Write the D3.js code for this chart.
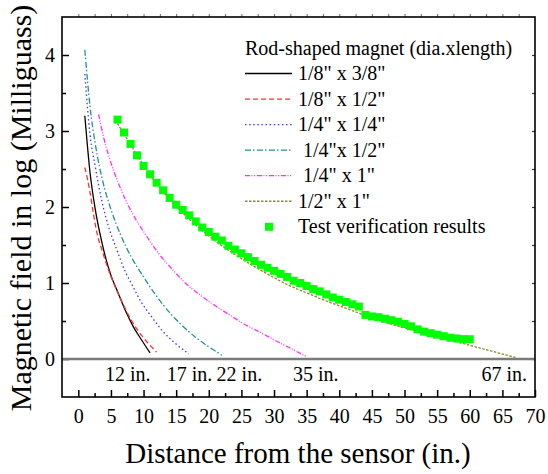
<!DOCTYPE html>
<html>
<head>
<meta charset="utf-8">
<script src="https://cdn.jsdelivr.net/npm/d3@7"></script>
<style>
  html, body { margin: 0; padding: 0; background: #fff; }
  svg { display: block; font-family: "Liberation Serif", "Times New Roman", serif; }
  text { white-space: pre; }
</style>
</head>
<body>
<svg id="chart" width="548" height="474"></svg>
<script>
// Field strength (log10 of milligauss) versus distance (in.) for rod magnets
const seriesNames = [
  "1/8\" x 3/8\"",
  "1/8\" x 1/2\"",
  "1/4\" x 1/4\"",
  " 1/4\"x 1/2\"",
  " 1/4\" x 1\"",
  "1/2\" x 1\""
];

const rod18x38 = [[1.0,3.2],[1.8,2.45],[2.6,1.97],[3.6,1.54],[4.1,1.36],[5,1.1],[6.1,0.87],[7.2,0.64],[8.4,0.43],[9.7,0.25],[11,0.08]];
const rod18x12 = [[1.0,2.52],[1.4,2.37],[1.8,2.19],[2.3,1.92],[2.9,1.64],[3.6,1.44],[4.35,1.24],[5.5,0.98],[6.65,0.76],[8,0.53],[9.7,0.31],[11,0.18],[12,0.09]];
const rod14x14 = [[1.0,3.75],[1.8,2.95],[2.6,2.53],[3.5,2.12],[4.6,1.75],[5.8,1.46],[7.15,1.16],[8.4,0.95],[9.7,0.74],[11.2,0.56],[12.8,0.38],[14.8,0.21],[16.9,0.07]];
const rod14x12 = [[1.0,4.07],[1.8,3.32],[2.6,2.83],[3.8,2.32],[5,1.97],[6.5,1.63],[8,1.36],[9.7,1.12],[11.8,0.85],[13.8,0.63],[15.8,0.45],[17.9,0.29],[20,0.16],[22,0.05]];
const rod14x1  = [[3.1,3.22],[3.9,2.91],[4.86,2.62],[6.3,2.28],[8.2,1.93],[10.2,1.65],[12.3,1.39],[14.3,1.19],[16.4,1.0],[18.7,0.84],[21,0.7],[23,0.59],[25,0.48],[27.9,0.35],[30.5,0.23],[33,0.12],[35,0.03]];
const rod12x1  = [[6,3.1],[8,2.82],[10,2.55],[12.5,2.25],[15,2.01],[17.5,1.8],[20,1.62],[22.5,1.46],[25,1.32],[27.5,1.19],[30,1.07],[32.5,0.96],[35,0.87],[37.5,0.78],[40,0.7],[42.5,0.62],[45,0.54],[47.5,0.47],[50,0.41],[52.5,0.35],[55,0.3],[57.5,0.24],[60,0.18],[63.5,0.1],[67,0.02]];

// Measured verification points, one per inch from 6 to 60
const testDistance = d3.range(6, 61);
const testField = [3.15,2.98,2.83,2.68,2.54,2.43,2.32,2.22,2.12,2.03,
                   1.96,1.89,1.81,1.73,1.67,1.61,1.56,1.49,1.44,1.39,
                   1.34,1.29,1.24,1.20,1.16,1.12,1.08,1.03,1.00,0.96,
                   0.92,0.89,0.85,0.81,0.78,0.75,0.72,0.69,0.58,0.56,
                   0.55,0.53,0.51,0.49,0.46,0.43,0.39,0.36,0.34,0.32,
                   0.30,0.28,0.27,0.26,0.26];

const xTicks = d3.range(0, 71, 5);
const yTicks = [0, 1, 2, 3, 4];
const endNotes = ["12 in.", "17 in.", "22 in.", "35 in.", "67 in."];

const curves = [rod18x38, rod18x12, rod14x14, rod14x12, rod14x1, rod12x1];

// styling
const colors = ["#000000", "#ff3030", "#3a3aff", "#259090", "#ff30ff", "#8c8c22"];
const dashes = ["none", "5,3", "1.5,2.6", "6,2,1.5,2.5", "5,1.5,1,1.5,1,2", "2.5,1.5"];
const endNoteStartX = [4.1, 13.55, 21.2, 32.9, 61.8];

const svg = d3.select("#chart");
const plotL = 62, plotR = 535, plotT = 17, plotB = 397;

const x = d3.scaleLinear().domain([-2.5, 70]).range([plotL, plotR]);
const y = d3.scaleLinear().domain([-0.5, 4.5]).range([plotB, plotT]);
const intFmt = d3.format("d");

// axes
const minorX = d3.range(2.5, 70, 5);
const halfY = d3.range(0.5, 4.5, 1);

svg.append("g").attr("transform", `translate(0,${plotB})`)
  .call(d3.axisBottom(x).tickValues(xTicks).tickFormat(intFmt).tickSizeInner(-7).tickSizeOuter(0).tickPadding(12))
  .call(g => g.select(".domain").remove())
  .call(g => g.selectAll("text").attr("font-size", 20).attr("font-family", "Liberation Serif").attr("fill", "#000"))
  .call(g => g.selectAll("line").attr("stroke", "#000").attr("stroke-width", 1.5));

svg.append("g").attr("transform", `translate(0,${plotB})`)
  .call(d3.axisBottom(x).tickValues(minorX).tickSizeInner(-4).tickSizeOuter(0).tickFormat(""))
  .call(g => g.select(".domain").remove())
  .call(g => g.selectAll("line").attr("stroke", "#000").attr("stroke-width", 1.5));

svg.append("g").attr("transform", `translate(${plotL},0)`)
  .call(d3.axisLeft(y).tickValues(yTicks).tickFormat(intFmt).tickSizeInner(-7).tickSizeOuter(0).tickPadding(7))
  .call(g => g.select(".domain").remove())
  .call(g => g.selectAll("text").attr("font-size", 20).attr("font-family", "Liberation Serif").attr("fill", "#000"))
  .call(g => g.selectAll("line").attr("stroke", "#000").attr("stroke-width", 1.5));

svg.append("g").attr("transform", `translate(${plotL},0)`)
  .call(d3.axisLeft(y).tickValues(halfY).tickSizeInner(-4).tickSizeOuter(0).tickFormat(""))
  .call(g => g.select(".domain").remove())
  .call(g => g.selectAll("line").attr("stroke", "#000").attr("stroke-width", 1.5));

// right and top edges carry small unlabeled ticks
svg.append("g").attr("transform", `translate(${plotR},0)`)
  .call(d3.axisRight(y).tickValues(d3.range(0, 4.5, 0.5)).tickSizeInner(-3).tickSizeOuter(0).tickFormat(""))
  .call(g => g.select(".domain").remove())
  .call(g => g.selectAll("line").attr("stroke", "#333").attr("stroke-width", 1.2));

svg.append("g").attr("transform", `translate(0,${plotT})`)
  .call(d3.axisTop(x).tickValues(d3.range(0, 70, 2.5)).tickSizeInner(3).tickSizeOuter(0).tickFormat(""))
  .call(g => g.select(".domain").remove())
  .call(g => g.selectAll("line").attr("stroke", "#666").attr("stroke-width", 1));

// zero reference line
svg.append("line")
  .attr("x1", x(-2.5)).attr("x2", x(70))
  .attr("y1", y(0)).attr("y2", y(0))
  .attr("stroke", "#7a7a7a").attr("stroke-width", 2.5);

// curves
const line = d3.line().x(d => x(d[0])).y(d => y(d[1])).curve(d3.curveMonotoneX);
curves.forEach((pts, i) => {
  svg.append("path")
    .datum(pts)
    .attr("d", line)
    .attr("fill", "none")
    .attr("stroke", colors[i])
    .attr("stroke-width", 1.3)
    .attr("stroke-dasharray", dashes[i]);
});

// measured points
const sq = 8;
svg.append("g").selectAll("rect")
  .data(testDistance.map((d, i) => [d, testField[i]]))
  .join("rect")
  .attr("x", d => x(d[0]) - sq / 2)
  .attr("y", d => y(d[1]) - sq / 2)
  .attr("width", sq).attr("height", sq)
  .attr("fill", "#00ff00");

// frame
svg.append("rect")
  .attr("x", plotL).attr("y", plotT)
  .attr("width", plotR - plotL).attr("height", plotB - plotT)
  .attr("fill", "none").attr("stroke", "#000").attr("stroke-width", 1.6);

// end-distance notes
svg.append("g").selectAll("text")
  .data(endNotes)
  .join("text")
  .attr("x", (d, i) => x(endNoteStartX[i]))
  .attr("y", 381)
  .attr("font-size", 20)
  .text(d => d);

// legend
const lg = svg.append("g");
lg.append("text").attr("x", 245).attr("y", 55).attr("font-size", 20)
  .text("Rod-shaped magnet (dia.xlength)");
const rowY = i => 80 + i * 25.55;
seriesNames.forEach((name, i) => {
  lg.append("line")
    .attr("x1", 245).attr("x2", 292)
    .attr("y1", rowY(i) - 6.5).attr("y2", rowY(i) - 6.5)
    .attr("stroke", colors[i]).attr("stroke-width", 1.3)
    .attr("stroke-dasharray", dashes[i]);
  lg.append("text").attr("x", 298).attr("y", rowY(i)).attr("font-size", 20).text(name);
});
lg.append("rect")
  .attr("x", 269 - sq / 2).attr("y", rowY(6) - 6.5 - sq / 2)
  .attr("width", sq).attr("height", sq).attr("fill", "#00ff00");
lg.append("text").attr("x", 298).attr("y", rowY(6)).attr("font-size", 20)
  .text("Test verification results");

// axis titles
svg.append("text")
  .attr("x", 298).attr("y", 463)
  .attr("text-anchor", "middle").attr("font-size", 29)
  .text("Distance from the sensor (in.)");
svg.append("text")
  .attr("transform", "translate(31,208) rotate(-90)")
  .attr("text-anchor", "middle").attr("font-size", 30)
  .text("Magnetic field in log (Milliguass)");
</script>
</body>
</html>
